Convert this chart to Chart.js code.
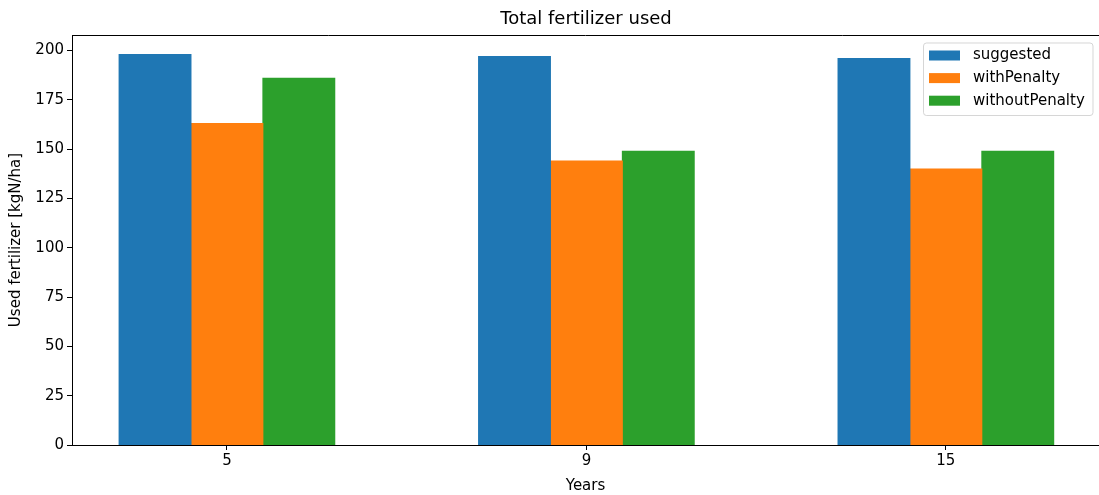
<!DOCTYPE html>
<html>
<head>
<meta charset="utf-8">
<script src="https://cdn.jsdelivr.net/npm/chart.js@4.4.0/dist/chart.umd.min.js"></script>
<style>
  html, body { margin: 0; padding: 0; background: #fff; }
  #wrap { width: 1099px; height: 495px; }
</style>
</head>
<body>
<div id="wrap"><canvas id="fertChart"></canvas></div>
<script>
const categories = ['5', '9', '15'];
const suggested = [198, 197, 196];
const withPenalty = [163, 144, 140];
const withoutPenalty = [186, 149, 149];
const yTicks = [0, 25, 50, 75, 100, 125, 150, 175, 200];

const FONT = 'DejaVu Sans';
const TICK_SIZE = 15;
const toXY = arr => arr.map((v, i) => ({ x: i, y: v }));

// matplotlib draws the top spine (right one falls off the canvas), title and legend inside the axes
const boxPlugin = {
  id: 'boxPlugin',
  afterDraw(chart) {
    const { ctx, chartArea: a } = chart;
    ctx.save();
    ctx.strokeStyle = '#000';
    ctx.lineWidth = 1;
    ctx.beginPath();
    ctx.moveTo(a.left, Math.round(a.top) + 0.5);
    ctx.lineTo(chart.width, Math.round(a.top) + 0.5);
    ctx.stroke();

    // title (centred on the full axes, which extends slightly past the canvas)
    ctx.fillStyle = '#000';
    ctx.font = '18px "' + FONT + '"';
    ctx.textAlign = 'center';
    ctx.textBaseline = 'middle';
    ctx.fillText('Total fertilizer used', 586, 19);

    // legend
    const ds = chart.data.datasets;
    const bx = 923, by = 42.5, bw = 169.5, bh = 72.5;
    ctx.globalAlpha = 0.8;
    ctx.fillStyle = '#fff';
    ctx.strokeStyle = '#ccc';
    ctx.beginPath();
    ctx.roundRect(bx + 0.5, by + 0.5, bw, bh, 3);
    ctx.fill();
    ctx.stroke();
    ctx.globalAlpha = 1;
    ctx.font = TICK_SIZE + 'px "' + FONT + '"';
    ctx.textAlign = 'left';
    ds.forEach((d, i) => {
      const cy = 55.5 + i * 22.6;
      ctx.fillStyle = d.backgroundColor;
      ctx.fillRect(929, cy - 5, 31, 10);
      ctx.fillStyle = '#000';
      ctx.fillText(d.label, 973, cy);
    });
    ctx.restore();
  }
};

new Chart(document.getElementById('fertChart'), {
  type: 'bar',
  data: {
    datasets: [
      { label: 'suggested', data: toXY(suggested), backgroundColor: '#1f77b4', borderWidth: 0, inflateAmount: 0.5 },
      { label: 'withPenalty', data: toXY(withPenalty), backgroundColor: '#ff7f0e', borderWidth: 0, inflateAmount: 0.5 },
      { label: 'withoutPenalty', data: toXY(withoutPenalty), backgroundColor: '#2ca02c', borderWidth: 0, inflateAmount: 0.5 }
    ]
  },
  options: {
    responsive: true,
    maintainAspectRatio: false,
    animation: false,
    layout: { padding: { top: 35, right: 0, left: 0, bottom: 0 } },
    datasets: { bar: { categoryPercentage: 0.6, barPercentage: 1.0 } },
    plugins: { legend: { display: false }, title: { display: false }, tooltip: { enabled: false } },
    scales: {
      x: {
        type: 'linear',
        offset: false,
        min: -0.431,
        max: 2.426,
        afterBuildTicks: s => { s.ticks = categories.map((c, i) => ({ value: i })); },
        afterFit: s => { s.height = 50; },
        ticks: {
          callback: v => categories[v],
          color: '#000',
          font: { family: FONT, size: TICK_SIZE },
          padding: 2,
          maxRotation: 0
        },
        grid: { offset: false, drawOnChartArea: false, tickLength: 5, color: '#000' },
        border: { color: '#000' },
        title: { display: true, text: 'Years', color: '#000', font: { family: FONT, size: TICK_SIZE }, padding: { top: 0, bottom: 0 } }
      },
      y: {
        min: 0,
        max: 207.9,
        afterBuildTicks: s => { s.ticks = yTicks.map(v => ({ value: v })); },
        afterFit: s => { s.width = 72; },
        ticks: {
          color: '#000',
          font: { family: FONT, size: TICK_SIZE },
          padding: 3
        },
        grid: { drawOnChartArea: false, tickLength: 5, color: '#000' },
        border: { color: '#000' },
        title: { display: true, text: 'Used fertilizer [kgN/ha]', color: '#000', font: { family: FONT, size: TICK_SIZE }, padding: { top: 7, bottom: 0 } }
      }
    }
  },
  plugins: [boxPlugin]
});
</script>
</body>
</html>
